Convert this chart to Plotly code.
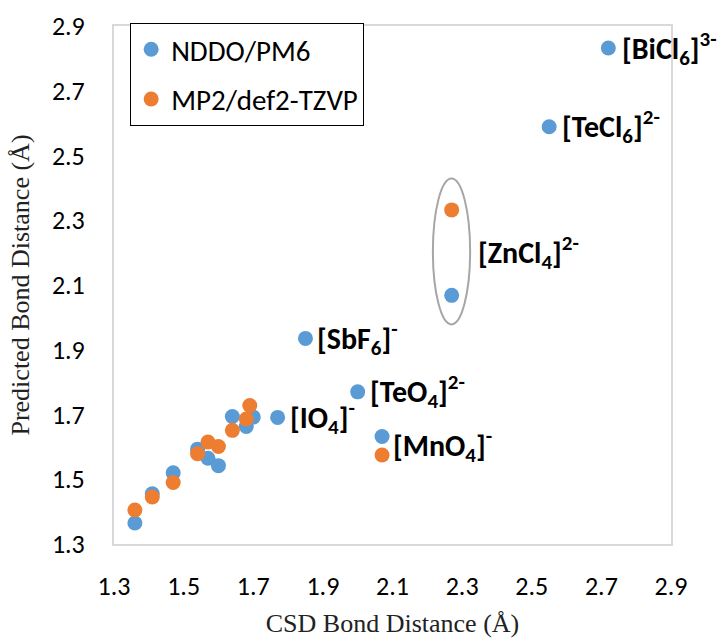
import plotly.graph_objects as go

# CSD (x) vs predicted (y) bond distances, in Å
pm6_csd = [1.36, 1.41, 1.47, 1.54, 1.57, 1.60, 1.64, 1.68, 1.70, 1.77, 1.85, 2.00, 2.07, 2.27, 2.55, 2.72]
pm6_pred = [1.365, 1.455, 1.52, 1.593, 1.565, 1.542, 1.694, 1.663, 1.692, 1.691, 1.935, 1.770, 1.632, 2.068, 2.589, 2.832]

mp2_csd = [1.36, 1.41, 1.47, 1.54, 1.57, 1.60, 1.64, 1.68, 1.69, 2.07, 2.27]
mp2_pred = [1.405, 1.445, 1.490, 1.579, 1.615, 1.601, 1.651, 1.686, 1.728, 1.575, 2.332]

tick_vals = [1.3, 1.5, 1.7, 1.9, 2.1, 2.3, 2.5, 2.7, 2.9]

# labelled anions: (text, x, y, horizontal offset in px)
anion_text = ["[BiCl<sub>6</sub>]<sup>3-</sup>", "[TeCl<sub>6</sub>]<sup>2-</sup>",
              "[ZnCl<sub>4</sub>]<sup>2-</sup>", "[SbF<sub>6</sub>]<sup>-</sup>",
              "[TeO<sub>4</sub>]<sup>2-</sup>", "[IO<sub>4</sub>]<sup>-</sup>",
              "[MnO<sub>4</sub>]<sup>-</sup>"]
anion_x = [2.72, 2.55, 2.27, 1.85, 2.00, 1.77, 2.07]
anion_y = [2.832, 2.589, 2.20, 1.935, 1.770, 1.691, 1.603]
anion_shift = [12, 11, 24, 10, 10, 10, 9]

# ellipse highlighting the ZnCl4 pair
zn_box = dict(x0=2.216, x1=2.323, y0=1.978, y1=2.429)

BLUE = "#5B9BD5"
ORANGE = "#ED7D31"
SANS = "Carlito, Calibri, Lato, sans-serif"
SERIF = "Liberation Serif, Times New Roman, serif"

fig = go.Figure()
fig.add_trace(go.Scatter(x=pm6_csd, y=pm6_pred, mode="markers", name="NDDO/PM6",
                         legendgroup="a",
                         marker=dict(color=BLUE, size=15)))
fig.add_trace(go.Scatter(x=mp2_csd, y=mp2_pred, mode="markers", name="MP2/def2-TZVP",
                         legendgroup="b",
                         marker=dict(color=ORANGE, size=15)))

for t, x, y, s in zip(anion_text, anion_x, anion_y, anion_shift):
    fig.add_annotation(x=x, y=y, xref="x", yref="y", text=f"<b>{t}</b>",
                       showarrow=False, xanchor="left", yanchor="middle", xshift=s,
                       font=dict(family=SANS, size=30, color="black"))

fig.add_shape(type="circle", xref="x", yref="y", **zn_box,
              line=dict(color="#A6A6A6", width=2), layer="below")

axis_common = dict(
    range=[1.3, 2.9], tickvals=tick_vals, ticktext=[f"{v:.1f}" for v in tick_vals],
    showgrid=False, zeroline=False, showline=True, mirror=True,
    linecolor="#D9D9D9", linewidth=2, ticks="", automargin=False,
    tickfont=dict(family=SANS, size=26, color="black"),
)

fig.update_xaxes(**axis_common, ticklabelstandoff=18,
                 title=dict(text="CSD Bond Distance (Å)", standoff=13,
                            font=dict(family=SERIF, size=26, color="#222222")))
fig.update_yaxes(**axis_common, ticklabelstandoff=22,
                 title=dict(text="Predicted Bond Distance (Å)", standoff=15,
                            font=dict(family=SERIF, size=26, color="#222222")))

fig.update_layout(
    width=725, height=639,
    margin=dict(l=114, r=54, t=26, b=95, autoexpand=False),
    paper_bgcolor="white", plot_bgcolor="white",
    showlegend=True,
    legend=dict(x=0.029, y=1.006, xanchor="left", yanchor="top",
                bordercolor="black", borderwidth=1, bgcolor="white",
                tracegroupgap=9,
                font=dict(family=SANS, size=29, color="black")),
)

fig.write_html("out.html")
